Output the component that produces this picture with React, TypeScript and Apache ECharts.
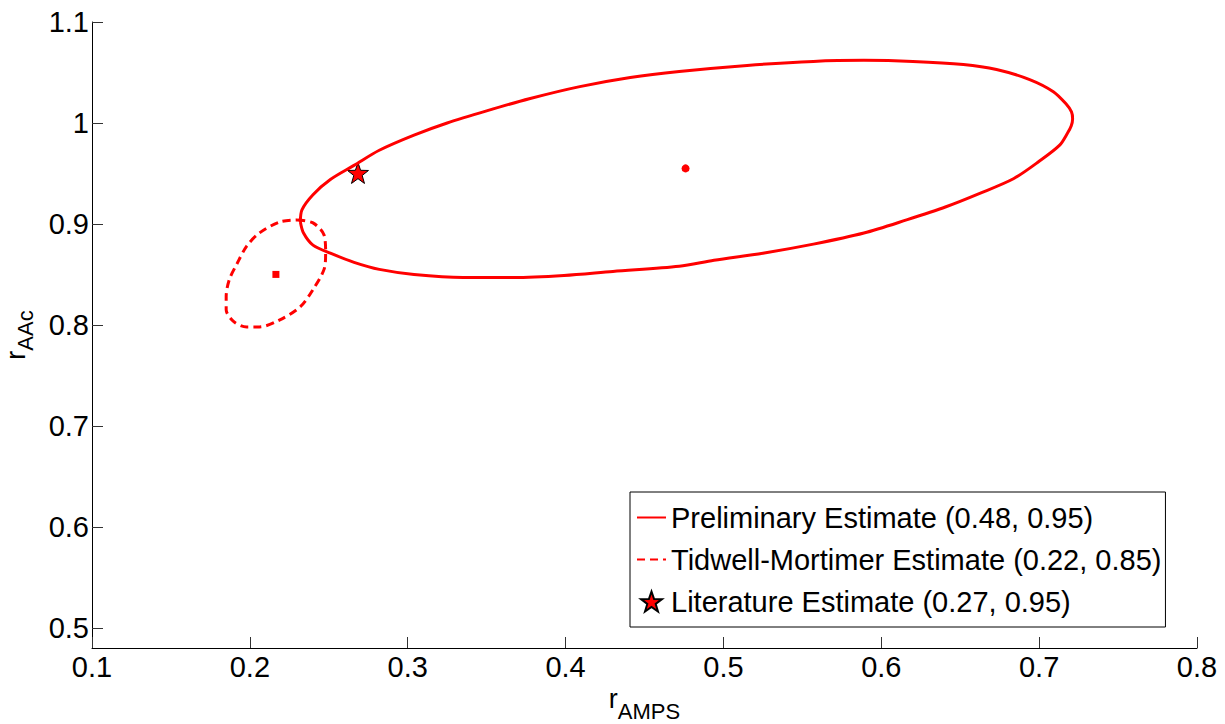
import React, { useEffect, useRef } from "react";
import * as echarts from "echarts";

// Preliminary estimate confidence ellipse
const prelimX = [0.232, 0.233, 0.240, 0.251, 0.266, 0.282, 0.304, 0.325, 0.350, 0.377, 0.409, 0.441, 0.472, 0.515, 0.557, 0.589, 0.620, 0.652, 0.673, 0.694, 0.709, 0.717, 0.7205, 0.7212, 0.7203, 0.718, 0.713, 0.700, 0.684, 0.662, 0.641, 0.616, 0.589, 0.557, 0.525, 0.494, 0.472, 0.430, 0.399, 0.367, 0.335, 0.304, 0.282, 0.266, 0.251, 0.240, 0.234, 0.232];
const prelimY = [0.902, 0.914, 0.929, 0.944, 0.958, 0.973, 0.988, 1.000, 1.012, 1.024, 1.036, 1.045, 1.051, 1.057, 1.061, 1.062, 1.061, 1.058, 1.053, 1.043, 1.031, 1.019, 1.011, 1.004, 0.997, 0.990, 0.978, 0.962, 0.945, 0.930, 0.917, 0.904, 0.891, 0.880, 0.871, 0.864, 0.858, 0.853, 0.849, 0.847, 0.847, 0.850, 0.855, 0.862, 0.871, 0.879, 0.891, 0.902];

// Tidwell-Mortimer estimate confidence ellipse
const tidX = [0.230, 0.240, 0.247, 0.248, 0.247, 0.240, 0.232, 0.219, 0.206, 0.198, 0.190, 0.185, 0.185, 0.187, 0.192, 0.198, 0.206, 0.219, 0.230];
const tidY = [0.904, 0.901, 0.889, 0.871, 0.855, 0.835, 0.818, 0.805, 0.798, 0.798, 0.803, 0.815, 0.828, 0.845, 0.861, 0.878, 0.891, 0.902, 0.904];

const prelimCenter = [0.476, 0.955];
const tidCenter = [0.2165, 0.850];
const literature = [0.2685, 0.9505];

const names = [
  "Preliminary Estimate (0.48, 0.95)",
  "Tidwell-Mortimer Estimate (0.22, 0.85)",
  "Literature Estimate (0.27, 0.95)",
];

const xMin = 0.1, xMax = 0.8;
const yMin = 0.48, yMax = 1.1;

const STAR = "path://M0,-10L2.35,-3.24L9.51,-3.09L3.8,1.24L5.88,8.09L0,4L-5.88,8.09L-3.8,1.24L-9.51,-3.09L-2.35,-3.24Z";
const FONT = "Liberation Sans, Arial, sans-serif";

export default function App() {
  const ref = useRef<HTMLDivElement>(null);
  useEffect(() => {
    if (!ref.current) return;
    const chart = echarts.init(ref.current, undefined, { renderer: "svg" });
    const zip = (xs: number[], ys: number[]) => xs.map((x, i) => [x, ys[i]]);
    const makeRich = (lh: number) => ({
      r: { fontSize: 27, color: "#000", fontFamily: FONT, verticalAlign: "top", lineHeight: lh },
      s: { fontSize: 22, color: "#000", fontFamily: FONT, verticalAlign: "bottom", lineHeight: lh },
    });
    chart.setOption({
      animation: false,
      backgroundColor: "#fff",
      textStyle: { fontFamily: FONT },
      grid: { left: 92, right: 28, top: 22, bottom: 76, containLabel: false, outerBoundsMode: "none" },
      xAxis: {
        type: "value",
        min: xMin,
        max: xMax,
        splitLine: { show: false },
        axisLine: { lineStyle: { color: "#000", width: 1 } },
        axisTick: { inside: true, length: 11, lineStyle: { color: "#333" } },
        axisLabel: { fontSize: 29, color: "#000", fontFamily: FONT, margin: 4 },
        name: "{r|r}{s|AMPS}",
        nameLocation: "middle",
        nameGap: 32,
        nameTextStyle: { rich: makeRich(37) },
      },
      yAxis: {
        type: "value",
        min: yMin,
        max: yMax,
        splitLine: { show: false },
        axisLine: { lineStyle: { color: "#000", width: 1 } },
        axisTick: { inside: true, length: 11, lineStyle: { color: "#333" } },
        axisLabel: { fontSize: 29, color: "#000", fontFamily: FONT, showMinLabel: false, margin: 3 },
        name: "{r|r}{s|AAc}",
        nameLocation: "middle",
        nameGap: 56,
        nameTextStyle: { rich: makeRich(34) },
      },
      legend: {
        orient: "vertical",
        left: 630,
        top: 492,
        padding: [11, 4, 11, 6],
        itemGap: 13,
        itemWidth: 29,
        itemHeight: 20,
        borderColor: "#000",
        borderWidth: 1,
        backgroundColor: "#fff",
        data: [
          { name: names[0], itemStyle: { opacity: 0 } },
          { name: names[1], itemStyle: { opacity: 0 } },
          { name: names[2], itemStyle: { opacity: 1 } },
        ],
        textStyle: { fontSize: 29, color: "#000", fontFamily: FONT },
      },
      series: [
        {
          name: names[0],
          type: "line",
          data: zip(prelimX, prelimY),
          symbol: "none",
          smooth: 0.3,
          lineStyle: { color: "#ff0000", width: 3 },
          itemStyle: { color: "#ff0000" },
        },
        {
          name: names[1],
          type: "line",
          data: zip(tidX, tidY),
          symbol: "none",
          smooth: 0.3,
          lineStyle: { color: "#ff0000", width: 3, type: [8, 5] },
          itemStyle: { color: "#ff0000" },
        },
        {
          name: "prelimCenter",
          type: "scatter",
          data: [prelimCenter],
          symbol: "circle",
          symbolSize: 8,
          itemStyle: { color: "#ff0000", opacity: 1 },
        },
        {
          name: "tidCenter",
          type: "scatter",
          data: [tidCenter],
          symbol: "rect",
          symbolSize: 7,
          itemStyle: { color: "#ff0000", opacity: 1 },
        },
        {
          name: names[2],
          type: "scatter",
          data: [literature],
          symbol: STAR,
          symbolSize: 21,
          itemStyle: { color: "#ff0000", borderColor: "#000", borderWidth: 1, opacity: 1 },
        },
      ],
    });
    return () => chart.dispose();
  }, []);
  return (
    <div
      ref={ref}
      style={{ position: "absolute", left: 0, top: 0, width: 1225, height: 724 }}
    />
  );
}
